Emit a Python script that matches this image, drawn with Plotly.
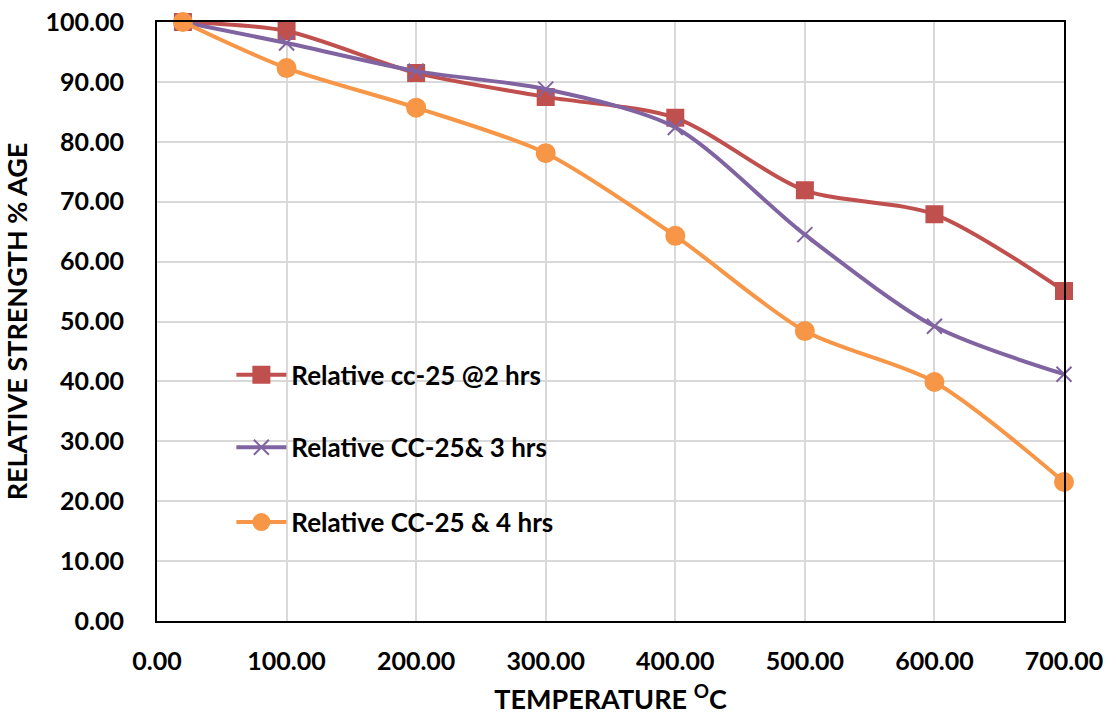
import plotly.graph_objects as go

temps = [20, 100, 200, 300, 400, 500, 600, 700]
red_vals = [100.0, 98.5, 91.5, 87.5, 84.0, 71.9, 67.9, 55.1]
purple_vals = [100.0, 96.5, 91.8, 88.8, 82.4, 64.5, 49.2, 41.2]
orange_vals = [100.0, 92.3, 85.7, 78.1, 64.3, 48.4, 39.9, 23.2]

names = ["Relative cc-25 @2 hrs", "Relative CC-25& 3 hrs", "Relative CC-25 & 4 hrs"]
colors = ["#C0504D", "#8064A2", "#F79646"]
symbols = ["square", "x-thin", "circle"]
sizes = [16, 15, 18]
series = [red_vals, purple_vals, orange_vals]
legend_ids = ["legend", "legend2", "legend3"]
legend_y = [0.411, 0.290, 0.165]

FONT = "Lato"

fig = go.Figure()
for name, col, sym, sz, vals, lid in zip(names, colors, symbols, sizes, series, legend_ids):
    fig.add_trace(go.Scatter(
        x=temps, y=vals, name=name, mode="lines+markers",
        line=dict(color=col, width=4, shape="spline", smoothing=0.8),
        marker=dict(symbol=sym, size=sz, color=col,
                    line=dict(color=col, width=2)),
        legend=lid, showlegend=True, cliponaxis=False,
    ))

legend_common = dict(
    x=0.082, xanchor="left", yanchor="middle",
    bgcolor="rgba(0,0,0,0)",
    font=dict(family=FONT, size=26, color="black", weight="bold"),
    itemwidth=50,
)

layout_legends = {}
for lid, ly in zip(legend_ids, legend_y):
    layout_legends[lid] = dict(y=ly, **legend_common)

fig.update_layout(
    width=1116, height=717,
    margin=dict(l=157, r=52, t=22, b=96),
    paper_bgcolor="white", plot_bgcolor="white",
    font=dict(family=FONT, color="black"),
    **layout_legends,
)

fig.update_xaxes(
    range=[0, 700], dtick=100, tick0=0, tickformat=".2f",
    showgrid=True, gridcolor="#D9D9D9", gridwidth=1.5,
    showline=True, linecolor="black", linewidth=2, mirror=True,
    ticks="", zeroline=False, ticklabelstandoff=17, automargin=False,
    tickfont=dict(family=FONT, size=25, color="black", weight="bold"),
    title=dict(text="TEMPERATURE <sup>O</sup>C",
               font=dict(family=FONT, size=27, color="black", weight="bold"),
               standoff=16),
)
fig.update_yaxes(
    range=[0, 100], dtick=10, tick0=0, tickformat=".2f",
    showgrid=True, gridcolor="#D9D9D9", gridwidth=1.5,
    showline=True, linecolor="black", linewidth=2, mirror=True,
    ticks="", zeroline=False, ticklabelstandoff=26, automargin=False,
    tickfont=dict(family=FONT, size=25, color="black", weight="bold"),
    title=dict(text="RELATIVE STRENGTH % AGE",
               font=dict(family=FONT, size=27, color="black", weight="bold"),
               standoff=10),
)

fig.write_html("out.html")
